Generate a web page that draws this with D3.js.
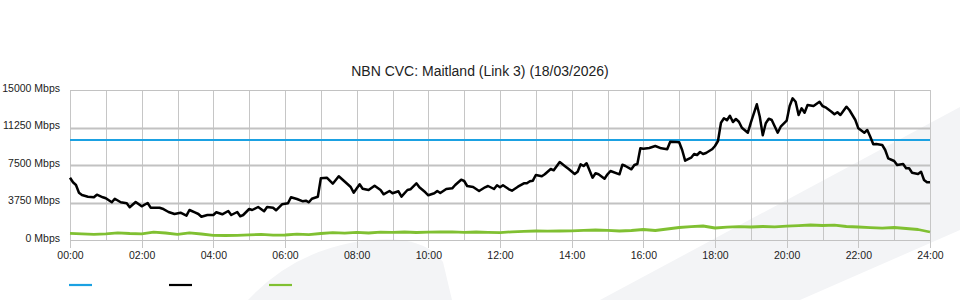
<!DOCTYPE html>
<html>
<head>
<meta charset="utf-8">
<script src="https://cdn.jsdelivr.net/npm/d3@7"></script>
<style>
  body { margin: 0; background: #fff; }
  svg { display: block; font-family: "Liberation Sans", Arial, sans-serif; }
</style>
</head>
<body>
<div id="chart"></div>
<script>
// chart values (minutes since midnight, Mbps)
const titleText = "NBN CVC: Maitland (Link 3) (18/03/2026)";
const yTicks = [0, 3750, 7500, 11250, 15000];
const xTickHours = [0, 2, 4, 6, 8, 10, 12, 14, 16, 18, 20, 22, 24];

const capacityTimes = [0, 1440];
const capacityValues = [10000, 10000];

const downloadTimes = [0, 5, 10, 15, 20, 30, 40, 45, 55, 60, 70, 75, 85, 95, 100, 110, 120, 130, 135, 150,
  155, 165, 175, 185, 195, 200, 210, 215, 220, 230, 240, 245, 255, 265, 270, 280, 285, 290, 300, 305,
  315, 325, 330, 340, 345, 355, 365, 370, 380, 390, 395, 400, 405, 415, 420, 430, 440, 450, 465, 470,
  475, 485, 490, 500, 510, 520, 525, 535, 540, 550, 555, 565, 570, 580, 585, 595, 600, 610, 615, 620,
  630, 640, 645, 655, 660, 665, 675, 685, 695, 700, 710, 715, 720, 725, 735, 740, 750, 760, 765, 770,
  775, 780, 790, 795, 805, 810, 820, 830, 835, 845, 850, 855, 860, 865, 875, 880, 885, 895, 900, 905,
  920, 925, 930, 940, 945, 950, 955, 960, 970, 980, 990, 1000, 1005, 1015, 1020, 1025, 1030, 1040, 1045, 1050,
  1055, 1060, 1065, 1075, 1080, 1085, 1090, 1095, 1100, 1105, 1110, 1115, 1120, 1125, 1135, 1140, 1150, 1155, 1160, 1165,
  1170, 1175, 1185, 1190, 1200, 1205, 1210, 1215, 1220, 1225, 1230, 1235, 1245, 1255, 1260, 1265, 1275, 1280, 1285, 1290,
  1300, 1305, 1315, 1320, 1330, 1335, 1340, 1345, 1350, 1360, 1365, 1370, 1380, 1385, 1395, 1400, 1405, 1410, 1420, 1425,
  1430, 1435, 1440];
const downloadValues = [6230, 5770, 5500, 4730, 4500, 4330, 4270, 4530, 4270, 4170, 3770, 4130, 3770, 3670, 3270, 3800, 3370, 3700, 3230, 3230,
  3130, 2800, 2600, 2730, 2430, 3000, 2730, 2600, 2330, 2500, 2500, 2770, 2570, 2900, 2500, 2800, 2370, 2500, 3100, 3000,
  3300, 2870, 3300, 3230, 2970, 3570, 3670, 4270, 4100, 3870, 3930, 3770, 4130, 4330, 6170, 6230, 5630, 6370, 5570, 5300,
  4730, 5570, 5130, 5000, 5430, 5000, 4570, 4900, 4670, 4870, 4330, 5000, 5070, 5670, 5270, 4770, 4470, 4670, 4900, 4700,
  5100, 5170, 5500, 6030, 5900, 5400, 5300, 4900, 5270, 5400, 5100, 5470, 5270, 5470, 5070, 4930, 5330, 5670, 5670, 5870,
  5930, 6500, 6370, 6570, 7100, 6970, 7800, 7330, 7100, 6600, 6830, 7570, 7400, 7670, 6230, 6670, 6570, 6130, 6570, 6900,
  6570, 7530, 7400, 7070, 7500, 7600, 9170, 9130, 9200, 9400, 9170, 9070, 9830, 9800, 9770, 9000, 7930, 8230, 8600, 8500,
  8800, 8600, 8700, 9070, 9400, 9900, 11730, 12170, 11970, 12430, 11800, 12100, 11830, 11230, 10730, 11730, 13570, 12330, 10470, 11670,
  12130, 12000, 10730, 11330, 11930, 13400, 14170, 13830, 12500, 13170, 12730, 13500, 13400, 13830, 13400, 13270, 12830, 12570, 12770, 12500,
  13330, 13000, 12000, 11170, 10730, 11000, 10330, 9570, 9600, 9500, 9000, 8170, 7900, 7500, 7600, 7170, 7170, 6730, 6600, 6830,
  6000, 5770, 5770];

const uploadTimes = d3.range(0, 1441, 20);
const uploadValues = [670, 620, 560, 620, 720, 650, 620, 780, 700, 570, 720, 600, 470, 450, 470, 520, 560, 480, 500, 590,
  530, 650, 730, 680, 760, 700, 790, 760, 800, 750, 790, 800, 810, 770, 800, 760, 740, 820, 860, 900,
  880, 900, 920, 960, 1000, 970, 900, 950, 1050, 950, 1100, 1250, 1330, 1400, 1200, 1280, 1330, 1300, 1350, 1320,
  1380, 1430, 1500, 1450, 1480, 1350, 1300, 1230, 1180, 1250, 1150, 1050, 800];

const seriesColors = ["#1ba1e2", "#000000", "#80c032"];

const W = 960, H = 300;
const margin = {top: 90, right: 30, bottom: 60, left: 70};
const width = W - margin.left - margin.right,
      height = H - margin.top - margin.bottom;

const svg = d3.select("#chart").append("svg")
    .attr("width", W).attr("height", H);

// faint watermark shapes in the background
svg.append("path")
    .attr("d", "M600,300 L960,107 L960,230 L800,300 Z")
    .attr("fill", "#f3f4f6");
svg.append("path")
    .attr("d", "M248,300 Q290,255 350,243 Q420,230 443,262 L452,300 Z")
    .attr("fill", "#f3f4f6");

// title
svg.append("text")
    .attr("x", W / 2).attr("y", 76)
    .attr("text-anchor", "middle")
    .style("font-size", "14px")
    .style("fill", "#222")
    .text(titleText);

const g = svg.append("g").attr("transform", `translate(${margin.left},${margin.top})`);

const x = d3.scaleLinear().domain([0, 1440]).range([0, width]);
const y = d3.scaleLinear().domain([0, 15000]).range([height, 0]);

// vertical grid every hour
g.append("g")
    .selectAll("line")
    .data(d3.range(0, 25))
    .join("line")
    .attr("x1", (d) => Math.round(x(d * 60)) + 0.5)
    .attr("x2", (d) => Math.round(x(d * 60)) + 0.5)
    .attr("y1", 0)
    .attr("y2", (d) => d % 2 === 0 ? height + 8 : height)
    .attr("stroke", "#c6c6c6")
    .attr("stroke-width", 1);

// horizontal grid
g.append("g")
    .selectAll("line")
    .data(yTicks)
    .join("line")
    .attr("x1", 0).attr("x2", width)
    .attr("y1", (d) => Math.round(y(d)) + 0.5)
    .attr("y2", (d) => Math.round(y(d)) + 0.5)
    .attr("stroke", "#c2c2c2")
    .attr("stroke-width", (d) => (d === 0 || d === 15000) ? 1 : 2);

// y axis labels
const yAxis = g.append("g")
    .call(d3.axisLeft(y).tickValues(yTicks).tickSize(0).tickPadding(10)
        .tickFormat((d) => d + " Mbps"));
yAxis.select(".domain").remove();
yAxis.selectAll("text")
    .attr("dy", "0.1em")
    .style("font-size", "10.5px")
    .style("fill", "#222")
    .style("font-family", "Liberation Sans, Arial, sans-serif");

// x axis labels
const xAxis = g.append("g")
    .attr("transform", `translate(0,${height})`)
    .call(d3.axisBottom(x).tickValues(xTickHours.map((h) => h * 60)).tickSize(0).tickPadding(12)
        .tickFormat((d) => String(d / 60).padStart(2, "0") + ":00"));
xAxis.select(".domain").remove();
xAxis.selectAll("text")
    .style("font-size", "10.5px")
    .style("fill", "#222")
    .style("font-family", "Liberation Sans, Arial, sans-serif");

const line = d3.line()
    .x((d) => x(d[0]))
    .y((d) => y(d[1]));

const uploadData = d3.zip(uploadTimes, uploadValues);
g.append("path")
    .datum(uploadData)
    .attr("d", line)
    .attr("fill", "none")
    .attr("stroke", seriesColors[2])
    .attr("stroke-width", 2.8)
    .attr("stroke-linejoin", "round");

g.append("path")
    .datum(d3.zip(capacityTimes, capacityValues))
    .attr("d", line)
    .attr("fill", "none")
    .attr("stroke", seriesColors[0])
    .attr("stroke-width", 2.2);

g.append("path")
    .datum(d3.zip(downloadTimes, downloadValues))
    .attr("d", line)
    .attr("fill", "none")
    .attr("stroke", seriesColors[1])
    .attr("stroke-width", 2.5)
    .attr("stroke-linejoin", "round");

// legend (no labels in the original)
svg.append("g")
    .selectAll("line")
    .data(seriesColors)
    .join("line")
    .attr("x1", (d, i) => 69 + i * 100)
    .attr("x2", (d, i) => 92 + i * 100)
    .attr("y1", 285).attr("y2", 285)
    .attr("stroke", (d) => d)
    .attr("stroke-width", 2.2);
</script>
</body>
</html>
